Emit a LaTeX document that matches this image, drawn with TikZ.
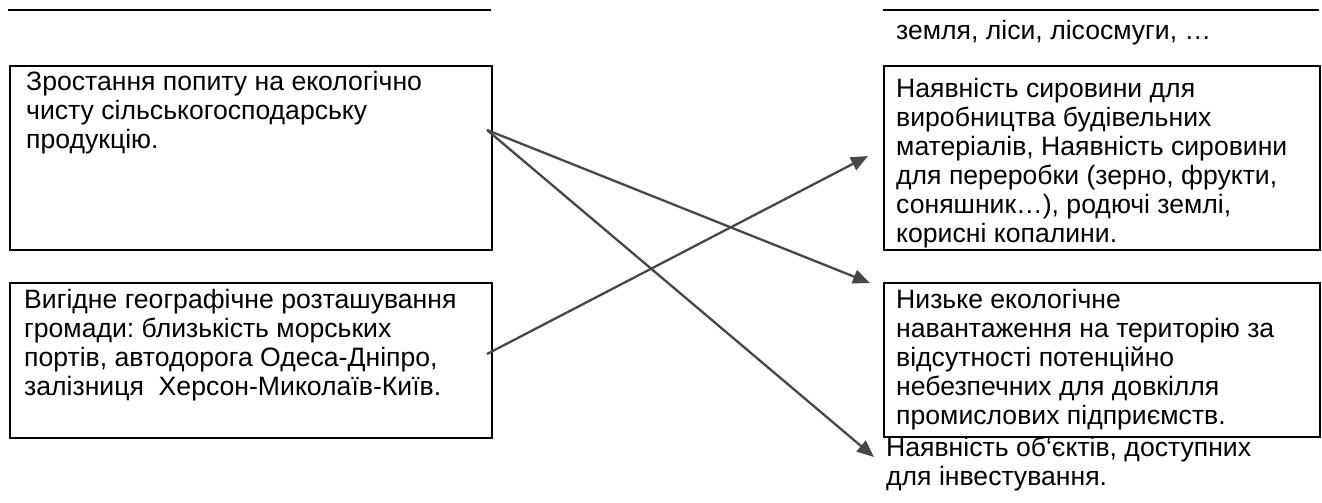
\documentclass[tikz,border=0pt]{standalone}
\usepackage{fontspec}
\setmainfont{Liberation Sans}
\usetikzlibrary{arrows.meta}
\definecolor{arrowgray}{HTML}{474747}
\tikzset{
  box/.style={draw=black, line width=2pt, rectangle, inner sep=0pt, anchor=north west},
  txt/.style={anchor=base west, inner sep=0pt, font=\fontsize{26.6}{29}\selectfont\frenchspacing},
  link/.style={draw=arrowgray, line width=2.3pt, -{Triangle[length=17pt,width=14pt]}},
  rulestyle/.style={draw=black, line width=2pt}
}
\newcommand{\boxtext}[1]{\parbox[t]{440pt}{\raggedright\frenchspacing #1}}
\begin{document}
\begin{tikzpicture}[x=1pt,y=-1pt]
\useasboundingbox (0,0) rectangle (1322,503);
% top rules
\coordinate (rla) at (8,10);
\coordinate (rlb) at (491,10);
\coordinate (rra) at (883,10);
\coordinate (rrb) at (1319,10);
\draw[rulestyle] (rla) -- (rlb);
\draw[rulestyle] (rra) -- (rrb);
% boxes
\node[box, minimum width=482pt, minimum height=184pt] (b1) at (9,65) {};
\node[box, minimum width=482pt, minimum height=155pt] (b2) at (9,282) {};
\node[box, minimum width=436pt, minimum height=184pt] (b3) at (883,65) {};
\node[box, minimum width=436pt, minimum height=154pt] (b4) at (883,282) {};
% texts
\node[txt] (t0) at (896,40) {земля, ліси, лісосмуги, …};
\node[txt] (t1) at (26,90) {\boxtext{Зростання попиту на екологічно\\чисту сільськогосподарську\\продукцію.}};
\node[txt] (t2) at (24,308) {\boxtext{Вигідне географічне розташування\\громади: близькість морських\\портів, автодорога Одеса-Дніпро,\\залізниця\ \ Херсон-Миколаїв-Київ.}};
\node[txt] (t3) at (896,97) {\boxtext{Наявність сировини для\\виробництва будівельних\\матеріалів, Наявність сировини\\для переробки (зерно, фрукти,\\соняшник…), родючі землі,\\корисні копалини.}};
\node[txt] (t4) at (896,308) {\boxtext{Низьке екологічне\\навантаження на територію за\\відсутності потенційно\\небезпечних для довкілля\\промислових підприємств.}};
\node[txt] (t5) at (886,456) {\boxtext{Наявність об‘єктів, доступних\\для інвестування.}};
% arrows
\coordinate (s1) at (487,130);
\coordinate (s2) at (487,354);
\coordinate (e1) at (870,283);
\coordinate (e2) at (874,457);
\coordinate (e3) at (868,156);
\draw[link] (s1) -- (e1);
\draw[link] (s1) -- (e2);
\draw[link] (s2) -- (e3);
\end{tikzpicture}
\end{document}
